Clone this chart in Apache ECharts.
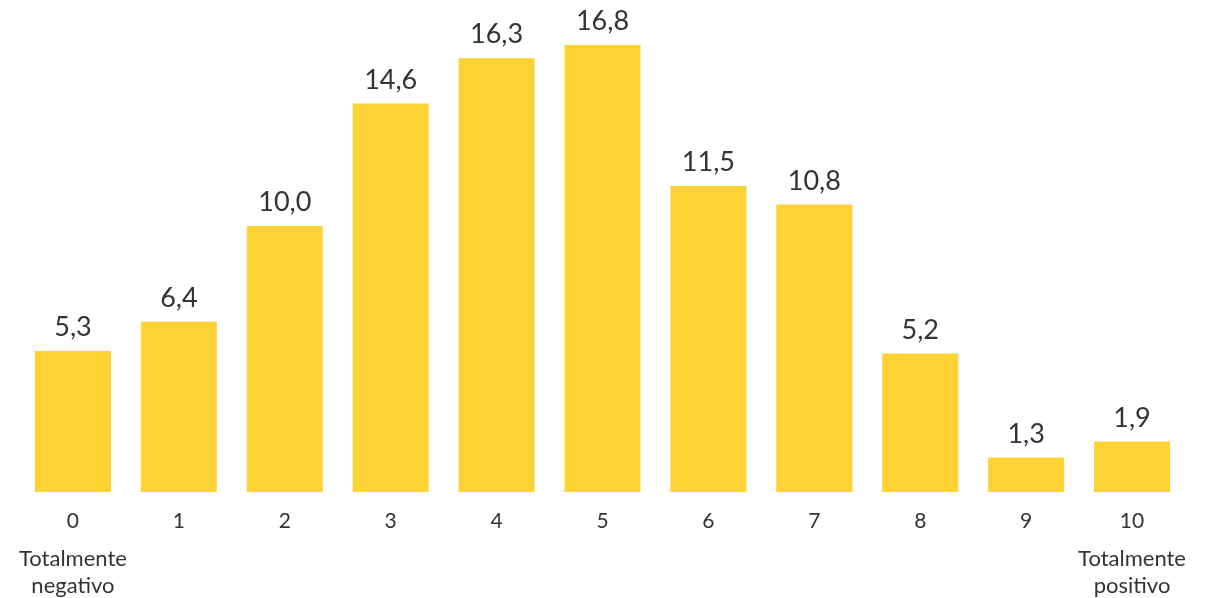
<!DOCTYPE html>
<html>
<head>
<meta charset="utf-8">
<script src="https://cdn.jsdelivr.net/npm/echarts@6/dist/echarts.min.js"></script>
<style>html,body{margin:0;padding:0;background:#fff}#c{width:1205px;height:598px}</style>
</head>
<body>
<div id="c"></div>
<script>
const categories = ['0','1','2','3','4','5','6','7','8','9','10'];
const values = [5.3, 6.4, 10.0, 14.6, 16.3, 16.8, 11.5, 10.8, 5.2, 1.3, 1.9];
const subtitles = {'0': ['Totalmente','negativo'], '10': ['Totalmente','positivo']};

const FONT = 'Lato';
const chart = echarts.init(document.getElementById('c'));
chart.setOption({
  animation: false,
  grid: {left: 20, right: 20, top: 13, bottom: 106, containLabel: false},
  xAxis: {
    type: 'category',
    data: categories,
    axisLine: {show: false},
    axisTick: {show: false},
    axisLabel: {
      margin: 6,
      interval: 0,
      verticalAlign: 'top',
      formatter: function (v) {
        let s = '{a|' + v + '}';
        if (subtitles[v]) s += '\n' + subtitles[v].map(t => '{b|' + t + '}').join('\n');
        return s;
      },
      rich: {
        a: {fontFamily: FONT, fontSize: 21, color: '#333333', lineHeight: 47, align: 'center'},
        b: {fontFamily: FONT, fontSize: 22, color: '#333333', lineHeight: 27, align: 'center'}
      }
    }
  },
  yAxis: {type: 'value', min: 0, max: 18, show: false, splitLine: {show: false}},
  series: [{
    type: 'bar',
    data: values,
    barWidth: 76,
    itemStyle: {color: '#FDD235'},
    label: {
      show: true,
      position: 'top',
      distance: 10,
      fontFamily: FONT,
      fontSize: 27,
      color: '#333333',
      formatter: p => p.value.toFixed(1).replace('.', ',')
    }
  }]
});
</script>
</body>
</html>
